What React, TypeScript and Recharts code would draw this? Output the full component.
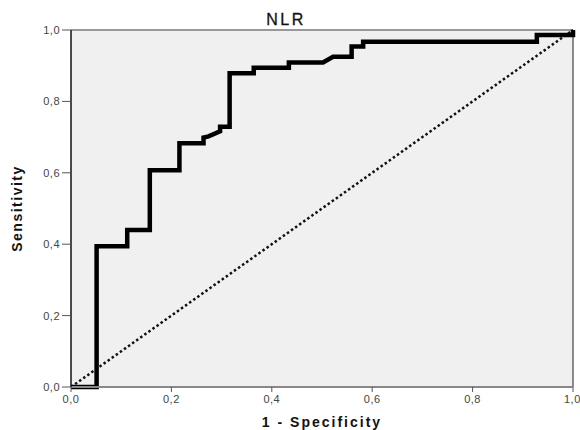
import { CartesianGrid, Line, LineChart, ReferenceLine, XAxis, YAxis } from 'recharts'

// ROC curve points (1 - specificity, sensitivity)
const fpr = [
  0, 0.051, 0.051, 0.112, 0.112, 0.157, 0.157, 0.216, 0.216, 0.264, 0.264, 0.274, 0.297, 0.297,
  0.316, 0.316, 0.364, 0.364, 0.434, 0.434, 0.502, 0.522, 0.559, 0.559, 0.582, 0.582, 0.928,
  0.928, 1, 1,
]
const tpr = [
  0, 0, 0.394, 0.394, 0.44, 0.44, 0.607, 0.607, 0.683, 0.683, 0.699, 0.702, 0.716, 0.729,
  0.729, 0.879, 0.879, 0.894, 0.894, 0.909, 0.909, 0.925, 0.925, 0.954, 0.954, 0.967, 0.967,
  0.986, 0.986, 1,
]
const refX = [0, 1]
const refY = [0, 1]
const ticks = [0, 0.2, 0.4, 0.6, 0.8, 1]

const curve = fpr.map((x, i) => ({ x, y: tpr[i] }))
const diagonal = refX.map((x, i) => ({ x, y: refY[i] }))

const fmt = (v: number) => v.toFixed(1).replace('.', ',')

const font = 'Liberation Sans, Arial, sans-serif'
const tickStyle = { fontSize: 11, fill: '#444', fontFamily: font, letterSpacing: 0.5 }

export default function App() {
  return (
    <div style={{ position: 'absolute', left: 0, top: 0, background: '#fff' }}>
      <LineChart
        width={580}
        height={430}
        margin={{ top: 30, right: 7, left: 0, bottom: 0 }}
      >
        <CartesianGrid fill="#f0f0f0" horizontal={false} vertical={false} />
        <XAxis
          type="number"
          dataKey="x"
          domain={[0, 1]}
          ticks={ticks}
          tickFormatter={fmt}
          height={43}
          tickSize={5}
          tickMargin={3}
          tick={tickStyle}
          axisLine={{ stroke: '#888', strokeWidth: 2 }}
          tickLine={{ stroke: '#555' }}
          label={{
            value: '1 - Specificity',
            position: 'insideBottom',
            offset: 3,
            style: { fontSize: 14, fontWeight: 'bold', fill: '#111', letterSpacing: 2, fontFamily: font },
          }}
        />
        <YAxis
          type="number"
          domain={[0, 1]}
          ticks={ticks}
          tickFormatter={fmt}
          width={71}
          tickSize={9}
          tickMargin={2}
          tick={tickStyle}
          axisLine={{ stroke: '#111', strokeWidth: 1.5 }}
          tickLine={{ stroke: '#555' }}
          label={{
            value: 'Sensitivity',
            angle: -90,
            position: 'insideLeft',
            offset: 17,
            style: { fontSize: 14, fontWeight: 'bold', fill: '#111', letterSpacing: 1.5, textAnchor: 'middle', fontFamily: font },
          }}
        />
        <ReferenceLine y={1} stroke="#999" strokeWidth={2} />
        <ReferenceLine x={1} stroke="#666" strokeWidth={1.5} />
        <Line
          data={diagonal}
          dataKey="y"
          type="linear"
          stroke="#111"
          strokeWidth={2.5}
          strokeDasharray="2.5 2.5"
          dot={false}
          activeDot={false}
          isAnimationActive={false}
        />
        <Line
          data={curve}
          dataKey="y"
          type="linear"
          stroke="#000"
          strokeWidth={4.5}
          strokeLinejoin="miter"
          dot={false}
          activeDot={false}
          isAnimationActive={false}
        />
        <text
          x={286}
          y={25}
          textAnchor="middle"
          fontSize={16}
          letterSpacing={2.5}
          fill="#111"
          stroke="#111"
          strokeWidth={0.3}
          fontFamily={font}
        >
          NLR
        </text>
      </LineChart>
    </div>
  )
}
